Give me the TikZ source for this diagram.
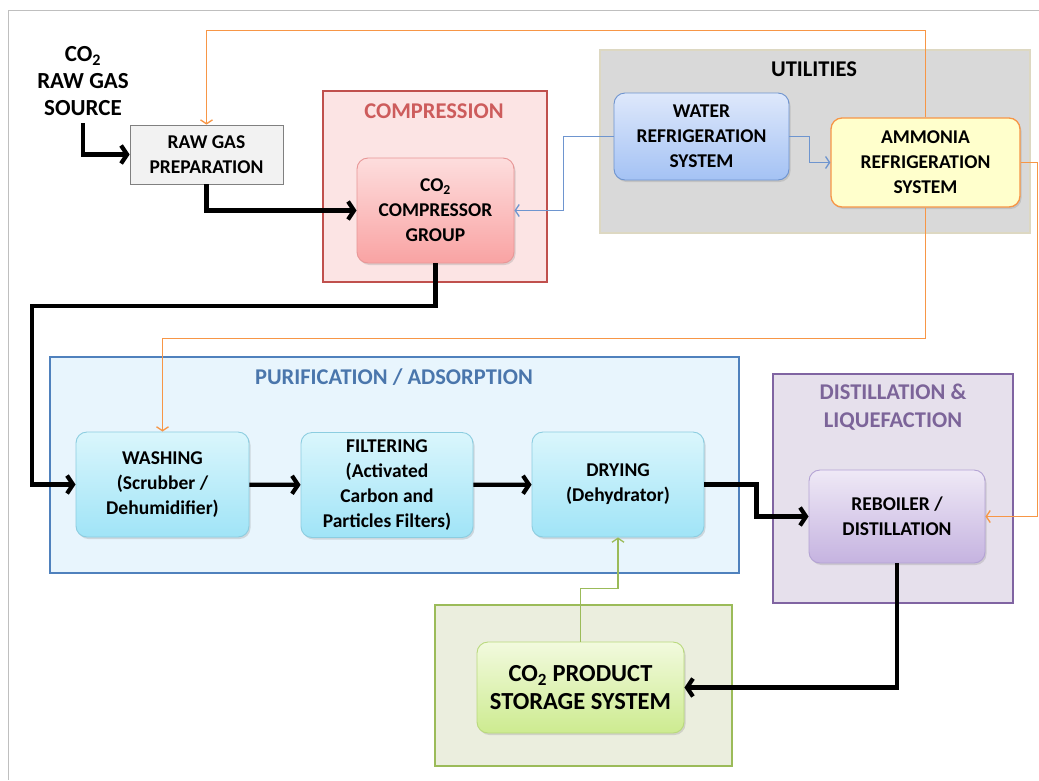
\documentclass[tikz,border=0pt]{standalone}
\usepackage{fontspec}
\setmainfont{Carlito}
\usetikzlibrary{arrows.meta,shadows}

\definecolor{frameGray}{HTML}{BFBFBF}
\definecolor{hotOrange}{HTML}{F79646}
\definecolor{coolBlue}{HTML}{6E95CF}
\definecolor{leafGreen}{HTML}{9BBB59}
\newcommand{\cotwo}{CO\textsubscript{2}}

\begin{document}
\begin{tikzpicture}[
  x=1pt, y=-1pt,
  font=\bfseries\fontsize{19.5}{25}\selectfont,
  grp/.style={line width=2.5pt},
  grptitle/.style={align=center, font=\bfseries\fontsize{22.5}{28}\selectfont},
  unit/.style={draw, rounded corners=11pt, align=center, line width=0.9pt,
    minimum width=173, minimum height=105, inner sep=1pt,
    drop shadow={opacity=0.25, shadow xshift=1.5pt, shadow yshift=-2pt}},
  flow/.style={line width=4.2pt, -{Straight Barb[length=6pt, width=18pt, line width=4.2pt]}},
  feed/.style={line width=1.5pt, -{Straight Barb[length=4pt, width=12pt, line width=1.3pt]}},
]
\useasboundingbox (0,0) rectangle (1039,780);

% page frame
\draw [frameGray, line width=1pt] (1039,10) -- (8,10) -- (8,780);

% groups
\draw [grp, fill={rgb,255:red,252;green,228;blue,228}, draw={rgb,255:red,192;green,80;blue,77}] (323,91) rectangle (547,282);
\node [grptitle, text={rgb,255:red,205;green,92;blue,92}] (tcomp) at (434,111) {COMPRESSION};

\draw [line width=1.8pt, fill={rgb,255:red,217;green,217;blue,217}, draw={rgb,255:red,221;green,216;blue,194}] (600,50) rectangle (1030,233);
\node [grptitle] (tutil) at (814,69) {UTILITIES};

\draw [grp, fill={rgb,255:red,232;green,245;blue,253}, draw={rgb,255:red,79;green,129;blue,189}] (50,357) rectangle (739,573);
\node [grptitle, text={rgb,255:red,74;green,118;blue,172}] (tpur) at (394,377) {PURIFICATION / ADSORPTION};

\draw [grp, fill={rgb,255:red,230;green,224;blue,236}, draw={rgb,255:red,128;green,100;blue,162}] (773,374) rectangle (1013,603);
\node [grptitle, text={rgb,255:red,124;green,100;blue,153}] (tdist) at (893,407) {DISTILLATION \&\\LIQUEFACTION};

\draw [grp, fill={rgb,255:red,235;green,238;blue,222}, draw=leafGreen] (435,605) rectangle (732,766);

% source and units
\node [align=center, font=\bfseries\fontsize{23}{27}\selectfont] (src) at (83,81) {\cotwo\\RAW GAS\\SOURCE};

\node [draw={rgb,255:red,128;green,128;blue,128}, fill={rgb,255:red,242;green,242;blue,242}, line width=0.8pt,
  align=center, minimum width=153, minimum height=59, inner sep=1pt] (prep) at (206.5,154.5) {RAW GAS\\PREPARATION};

\node [unit, minimum width=157, top color={rgb,255:red,253;green,221;blue,221}, bottom color={rgb,255:red,249;green,163;blue,163},
  draw={rgb,255:red,232;green,150;blue,150}] (comp) at (435.5,210.5) {\cotwo\\COMPRESSOR\\GROUP};

\node [unit, minimum width=175, minimum height=87, top color={rgb,255:red,222;green,232;blue,251}, bottom color={rgb,255:red,164;green,194;blue,244},
  draw={rgb,255:red,109;green,147;blue,207}] (water) at (701.5,136.5) {WATER\\REFRIGERATION\\SYSTEM};

\node [unit, minimum width=189, minimum height=89, fill={rgb,255:red,255;green,255;blue,204},
  draw=hotOrange, line width=1.3pt] (amm) at (925.5,162.5) {AMMONIA\\REFRIGERATION\\SYSTEM};

\node [unit, top color={rgb,255:red,218;green,246;blue,252}, bottom color={rgb,255:red,160;green,228;blue,247},
  draw={rgb,255:red,140;green,205;blue,224}] (wash) at (162.5,484.5) {WASHING\\(Scrubber /\\Dehumidifier)};

\node [unit, minimum width=172, top color={rgb,255:red,218;green,246;blue,252}, bottom color={rgb,255:red,160;green,228;blue,247},
  draw={rgb,255:red,140;green,205;blue,224}] (filt) at (387,485) {FILTERING\\(Activated\\Carbon and\\Particles Filters)};

\node [unit, minimum width=172, top color={rgb,255:red,218;green,246;blue,252}, bottom color={rgb,255:red,160;green,228;blue,247},
  draw={rgb,255:red,140;green,205;blue,224}] (dry) at (618,484.5) {DRYING\\(Dehydrator)};

\node [unit, minimum width=176, minimum height=93, top color={rgb,255:red,239;green,233;blue,246}, bottom color={rgb,255:red,197;green,179;blue,224},
  draw={rgb,255:red,179;green,162;blue,212}] (reb) at (897,516.5) {REBOILER /\\DISTILLATION};

\node [unit, minimum width=207, minimum height=91, top color={rgb,255:red,242;green,250;blue,222}, bottom color={rgb,255:red,205;green,235;blue,144},
  draw={rgb,255:red,185;green,217;blue,124}, font=\bfseries\fontsize{24.5}{28}\selectfont] (store) at (580.5,687.5) {\cotwo{} PRODUCT\\STORAGE SYSTEM};

% main gas flow
\draw [flow] ([yshift=-4pt]src.south) |- (prep.west);
\draw [flow] (prep.south) |- (comp.west);
\draw [flow] (comp.south) |- (32,306) |- (wash.west);
\draw [flow] (wash) -- (filt);
\draw [flow] (filt) -- (dry);
\draw [flow] (dry.east) -- ++(52,0) |- (reb.west);
\draw [flow] (reb.south) |- (store.east);

% utility lines
\draw [feed, coolBlue] (water.west) -- ++(-50,0) |- (comp.east);
\draw [feed, coolBlue] (water.east) -- ++(20,0) |- (amm.west);
\draw [feed, hotOrange] (amm.north) -- ++(0,-87) -| (prep.north);
\draw [feed, hotOrange] (amm.south) -- ++(0,131) -| (wash.north);
\draw [feed, hotOrange] (amm.east) -- ++(17,0) |- (reb.east);
\draw [feed, leafGreen] (store.north) -- ++(0,-53) -| (dry.south);

\end{tikzpicture}
\end{document}
